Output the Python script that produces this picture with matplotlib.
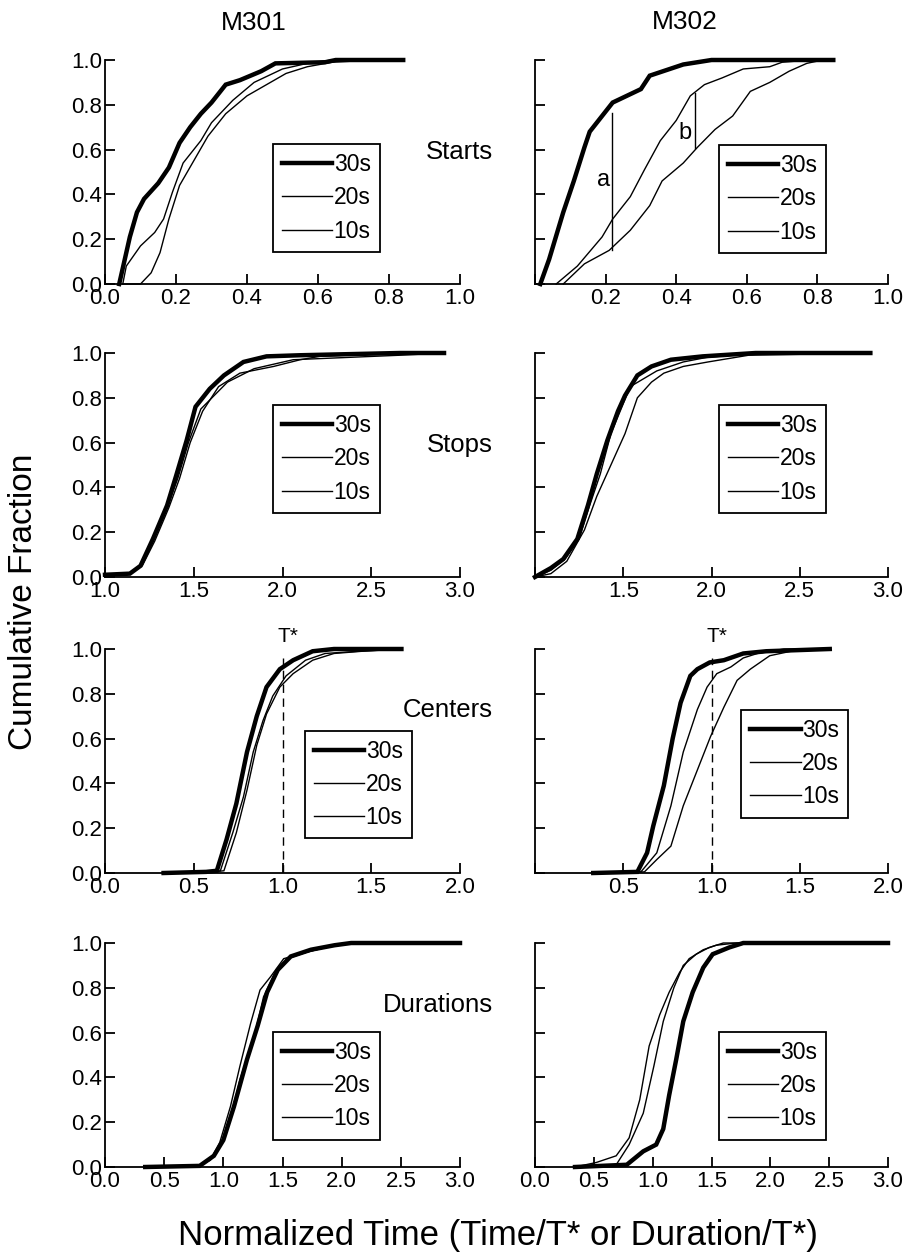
import matplotlib
matplotlib.use("Agg")
import matplotlib.pyplot as plt
from matplotlib.lines import Line2D

plt.rcParams['font.family'] = ['Liberation Sans', 'DejaVu Sans']

# ---- Starts, M301
st1_x30 = [0.04, 0.07, 0.09, 0.11, 0.15, 0.18, 0.21, 0.24, 0.27, 0.30, 0.34, 0.38, 0.44, 0.48, 0.62, 0.65, 0.84]
st1_y30 = [0.0, 0.21, 0.32, 0.38, 0.45, 0.52, 0.63, 0.70, 0.76, 0.81, 0.89, 0.91, 0.95, 0.985, 0.99, 1.0, 1.0]
st1_x20 = [0.05, 0.06, 0.10, 0.14, 0.165, 0.19, 0.22, 0.27, 0.30, 0.36, 0.42, 0.50, 0.57, 0.64]
st1_y20 = [0.0, 0.08, 0.17, 0.23, 0.29, 0.41, 0.54, 0.64, 0.72, 0.82, 0.90, 0.96, 0.985, 1.0]
st1_x10 = [0.05, 0.10, 0.13, 0.155, 0.18, 0.21, 0.25, 0.29, 0.34, 0.40, 0.455, 0.51, 0.57, 0.64, 0.76]
st1_y10 = [0.0, 0.0, 0.05, 0.14, 0.29, 0.44, 0.55, 0.66, 0.76, 0.84, 0.89, 0.94, 0.97, 0.99, 1.0]

# ---- Starts, M302
st2_x30 = [0.015, 0.04, 0.08, 0.11, 0.14, 0.155, 0.19, 0.22, 0.26, 0.30, 0.325, 0.42, 0.50, 0.845]
st2_y30 = [0.0, 0.11, 0.32, 0.46, 0.61, 0.68, 0.75, 0.81, 0.84, 0.87, 0.93, 0.98, 1.0, 1.0]
st2_x20 = [0.06, 0.12, 0.19, 0.22, 0.27, 0.31, 0.355, 0.40, 0.44, 0.48, 0.53, 0.59, 0.665, 0.70, 0.78]
st2_y20 = [0.0, 0.08, 0.21, 0.29, 0.39, 0.51, 0.64, 0.73, 0.84, 0.89, 0.92, 0.96, 0.97, 0.99, 1.0]
st2_x10 = [0.08, 0.14, 0.21, 0.27, 0.325, 0.36, 0.42, 0.46, 0.51, 0.56, 0.61, 0.665, 0.72, 0.77, 0.815]
st2_y10 = [0.0, 0.09, 0.15, 0.24, 0.35, 0.46, 0.54, 0.61, 0.69, 0.75, 0.86, 0.90, 0.95, 0.985, 1.0]

# ---- Stops, M301
sp1_x30 = [1.0, 1.14, 1.20, 1.27, 1.35, 1.40, 1.46, 1.51, 1.59, 1.67, 1.78, 1.91, 2.10, 2.66, 2.91]
sp1_y30 = [0.01, 0.015, 0.05, 0.17, 0.32, 0.45, 0.61, 0.76, 0.84, 0.90, 0.96, 0.985, 0.99, 1.0, 1.0]
sp1_x20 = [1.0, 1.14, 1.20, 1.27, 1.35, 1.41, 1.47, 1.54, 1.69, 1.84, 2.06, 2.66, 2.91]
sp1_y20 = [0.01, 0.015, 0.05, 0.16, 0.31, 0.44, 0.60, 0.75, 0.87, 0.93, 0.97, 0.99, 1.0]
sp1_x10 = [1.0, 1.14, 1.21, 1.28, 1.36, 1.42, 1.48, 1.55, 1.64, 1.76, 1.95, 2.10, 2.21, 2.66, 2.91]
sp1_y10 = [0.01, 0.015, 0.05, 0.16, 0.31, 0.44, 0.60, 0.74, 0.85, 0.91, 0.94, 0.97, 0.985, 1.0, 1.0]

# ---- Stops, M302
sp2_x30 = [1.0, 1.09, 1.16, 1.24, 1.30, 1.35, 1.41, 1.47, 1.51, 1.58, 1.66, 1.77, 1.95, 2.25, 2.90]
sp2_y30 = [0.0, 0.04, 0.08, 0.17, 0.32, 0.46, 0.61, 0.74, 0.81, 0.90, 0.94, 0.97, 0.985, 1.0, 1.0]
sp2_x20 = [1.0, 1.09, 1.17, 1.25, 1.31, 1.37, 1.43, 1.54, 1.69, 1.84, 1.97, 2.25, 2.90]
sp2_y20 = [0.0, 0.03, 0.08, 0.17, 0.32, 0.46, 0.64, 0.85, 0.92, 0.96, 0.98, 1.0, 1.0]
sp2_x10 = [1.0, 1.09, 1.18, 1.28, 1.35, 1.43, 1.51, 1.58, 1.66, 1.73, 1.84, 1.98, 2.21, 2.90]
sp2_y10 = [0.0, 0.015, 0.07, 0.21, 0.36, 0.50, 0.64, 0.80, 0.87, 0.91, 0.94, 0.96, 0.99, 1.0]

# ---- Centers, M301
ce1_x30 = [0.33, 0.57, 0.63, 0.685, 0.74, 0.80, 0.855, 0.91, 0.985, 1.06, 1.17, 1.29, 1.67]
ce1_y30 = [0.0, 0.005, 0.01, 0.15, 0.31, 0.54, 0.70, 0.83, 0.91, 0.95, 0.99, 1.0, 1.0]
ce1_x20 = [0.33, 0.60, 0.65, 0.72, 0.78, 0.835, 0.89, 0.945, 1.02, 1.13, 1.24, 1.43, 1.67]
ce1_y20 = [0.0, 0.005, 0.01, 0.18, 0.34, 0.54, 0.68, 0.79, 0.88, 0.95, 0.98, 0.99, 1.0]
ce1_x10 = [0.33, 0.61, 0.67, 0.74, 0.80, 0.855, 0.91, 0.985, 1.06, 1.17, 1.29, 1.45, 1.67]
ce1_y10 = [0.0, 0.005, 0.01, 0.18, 0.37, 0.57, 0.71, 0.83, 0.89, 0.95, 0.98, 0.99, 1.0]

# ---- Centers, M302
ce2_x30 = [0.33, 0.58, 0.635, 0.67, 0.73, 0.78, 0.825, 0.88, 0.92, 0.99, 1.07, 1.18, 1.31, 1.67]
ce2_y30 = [0.0, 0.005, 0.09, 0.21, 0.39, 0.60, 0.76, 0.88, 0.91, 0.94, 0.95, 0.98, 0.99, 1.0]
ce2_x20 = [0.33, 0.60, 0.69, 0.77, 0.84, 0.92, 0.975, 1.03, 1.11, 1.18, 1.26, 1.41, 1.67]
ce2_y20 = [0.0, 0.005, 0.09, 0.30, 0.54, 0.73, 0.83, 0.89, 0.92, 0.96, 0.98, 1.0, 1.0]
ce2_x10 = [0.33, 0.62, 0.69, 0.77, 0.84, 0.92, 0.995, 1.07, 1.145, 1.22, 1.33, 1.45, 1.60, 1.67]
ce2_y10 = [0.0, 0.005, 0.06, 0.12, 0.30, 0.46, 0.61, 0.74, 0.86, 0.91, 0.97, 0.99, 1.0, 1.0]

# ---- Durations, M301
du1_x30 = [0.34, 0.80, 0.92, 1.0, 1.09, 1.20, 1.29, 1.37, 1.46, 1.57, 1.74, 1.94, 2.08, 3.0]
du1_y30 = [0.0, 0.005, 0.05, 0.12, 0.27, 0.48, 0.63, 0.78, 0.88, 0.94, 0.97, 0.99, 1.0, 1.0]
du1_x20 = [0.34, 0.78, 0.89, 0.97, 1.06, 1.14, 1.23, 1.31, 1.40, 1.51, 1.71, 1.94, 2.08, 3.0]
du1_y20 = [0.0, 0.005, 0.03, 0.11, 0.27, 0.45, 0.64, 0.79, 0.85, 0.93, 0.96, 0.99, 1.0, 1.0]
du1_x10 = [0.34, 0.80, 0.90, 0.97, 1.06, 1.14, 1.26, 1.34, 1.43, 1.54, 1.71, 1.94, 2.08, 3.0]
du1_y10 = [0.0, 0.005, 0.04, 0.09, 0.21, 0.39, 0.58, 0.76, 0.86, 0.93, 0.96, 0.99, 1.0, 1.0]

# ---- Durations, M302
du2_x30 = [0.34, 0.78, 0.92, 1.03, 1.09, 1.14, 1.20, 1.26, 1.34, 1.43, 1.51, 1.65, 1.77, 3.0]
du2_y30 = [0.0, 0.01, 0.07, 0.10, 0.17, 0.32, 0.48, 0.65, 0.78, 0.89, 0.95, 0.98, 1.0, 1.0]
du2_x20 = [0.34, 0.52, 0.69, 0.80, 0.89, 0.97, 1.06, 1.14, 1.23, 1.31, 1.43, 1.54, 1.71, 3.0]
du2_y20 = [0.0, 0.02, 0.05, 0.13, 0.30, 0.54, 0.68, 0.78, 0.87, 0.93, 0.97, 0.99, 1.0, 1.0]
du2_x10 = [0.41, 0.69, 0.80, 0.92, 1.01, 1.09, 1.18, 1.26, 1.37, 1.48, 1.60, 3.0]
du2_y10 = [0.0, 0.01, 0.10, 0.24, 0.45, 0.65, 0.80, 0.90, 0.95, 0.98, 1.0, 1.0]

series_labels = ['30s', '20s', '10s']
series_lw = [3.2, 1.0, 1.0]
col_titles = ['M301', 'M302']
row_names = ['Starts', 'Stops', 'Centers', 'Durations']

row_xlim = [(0.0, 1.0), (1.0, 3.0), (0.0, 2.0), (0.0, 3.0)]
row_ticks = [[0.0, 0.2, 0.4, 0.6, 0.8, 1.0],
             [1.0, 1.5, 2.0, 2.5, 3.0],
             [0.0, 0.5, 1.0, 1.5, 2.0],
             [0.0, 0.5, 1.0, 1.5, 2.0, 2.5, 3.0]]
y_ticks = [0.0, 0.2, 0.4, 0.6, 0.8, 1.0]

panels = [
    [(st1_x30, st1_y30, st1_x20, st1_y20, st1_x10, st1_y10),
     (st2_x30, st2_y30, st2_x20, st2_y20, st2_x10, st2_y10)],
    [(sp1_x30, sp1_y30, sp1_x20, sp1_y20, sp1_x10, sp1_y10),
     (sp2_x30, sp2_y30, sp2_x20, sp2_y20, sp2_x10, sp2_y10)],
    [(ce1_x30, ce1_y30, ce1_x20, ce1_y20, ce1_x10, ce1_y10),
     (ce2_x30, ce2_y30, ce2_x20, ce2_y20, ce2_x10, ce2_y10)],
    [(du1_x30, du1_y30, du1_x20, du1_y20, du1_x10, du1_y10),
     (du2_x30, du2_y30, du2_x20, du2_y20, du2_x10, du2_y10)],
]

W, H = 908, 1253
fig = plt.figure(figsize=(W / 100, H / 100), dpi=100)

# layout in pixels
col_left = [105, 535]
col_width = [355, 353]
row_top = [60, 353, 649, 943]
ax_h = 224

# legend anchors (axes fraction, upper-left corner)
leg_pos = [[(0.473, 0.625), (0.521, 0.621)],
           [(0.473, 0.769), (0.521, 0.769)],
           [(0.563, 0.636), (0.584, 0.729)],
           [(0.473, 0.604), (0.521, 0.604)]]

# tick labels hidden at the origin of the right-hand panels
hide_first = [True, True, True, False]

for r in range(4):
    for c in range(2):
        ax = fig.add_axes([col_left[c] / W, 1 - (row_top[r] + ax_h) / H,
                           col_width[c] / W, ax_h / H])
        d = panels[r][c]
        for k in range(3):
            ax.plot(d[2 * k], d[2 * k + 1], color='black', lw=series_lw[k],
                    clip_on=False, solid_joinstyle='miter')
        ax.set_xlim(*row_xlim[r])
        ax.set_ylim(0, 1)
        for s in ['top', 'right']:
            ax.spines[s].set_visible(False)
        for s in ['left', 'bottom']:
            ax.spines[s].set_linewidth(1.3)
        ax.tick_params(direction='in', length=7, width=1.3, labelsize=16, pad=2)
        ax.tick_params(axis='x', pad=3)
        ax.set_xticks(row_ticks[r])
        xl = ['%.1f' % t for t in row_ticks[r]]
        if c == 1 and hide_first[r]:
            xl[0] = ''
        ax.set_xticklabels(xl)
        ax.set_yticks(y_ticks)
        if c == 0:
            ax.set_yticklabels(['%.1f' % t for t in y_ticks])
        else:
            ax.set_yticklabels([])

        handles = [Line2D([], [], color='black', lw=series_lw[k]) for k in range(3)]
        leg = ax.legend(handles, series_labels, loc='upper left',
                        bbox_to_anchor=leg_pos[r][c], borderaxespad=0,
                        frameon=True, fancybox=False, edgecolor='black',
                        framealpha=1, fontsize=16.5, handlelength=2.2,
                        handletextpad=0.05, borderpad=0.4, labelspacing=0.45)
        leg.get_frame().set_linewidth(1.3)

        if r == 0 and c == 1:
            ax.plot([0.218, 0.218], [0.152, 0.763], color='black', lw=1.0)
            ax.text(0.193, 0.464, 'a', fontsize=17, ha='center', va='center')
            ax.plot([0.453, 0.453], [0.607, 0.853], color='black', lw=1.0)
            ax.text(0.425, 0.674, 'b', fontsize=17, ha='center', va='center')
        if r == 2:
            ax.plot([1.0, 1.0], [0.0, 0.96], color='black', lw=1.0,
                    dashes=(6, 4))
            ax.text(1.03, 1.015, 'T*', fontsize=15, ha='center', va='bottom',
                    clip_on=False)

# column titles
fig.text(254 / W, 1 - 23 / H, col_titles[0], fontsize=19, ha='center', va='center')
fig.text(685 / W, 1 - 22 / H, col_titles[1], fontsize=19, ha='center', va='center')

# row names
row_name_y = [152, 445, 710, 1005]
for r in range(4):
    fig.text(493 / W, 1 - row_name_y[r] / H, row_names[r], fontsize=18.5,
             ha='right', va='center')

fig.text(24 / W, 1 - 602 / H, 'Cumulative Fraction', fontsize=24,
         rotation=90, ha='center', va='center')
fig.text(498 / W, 1 - 1236 / H, 'Normalized Time (Time/T* or Duration/T*)',
         fontsize=25, ha='center', va='center')

fig.savefig('out.png', dpi=100, facecolor='white')
